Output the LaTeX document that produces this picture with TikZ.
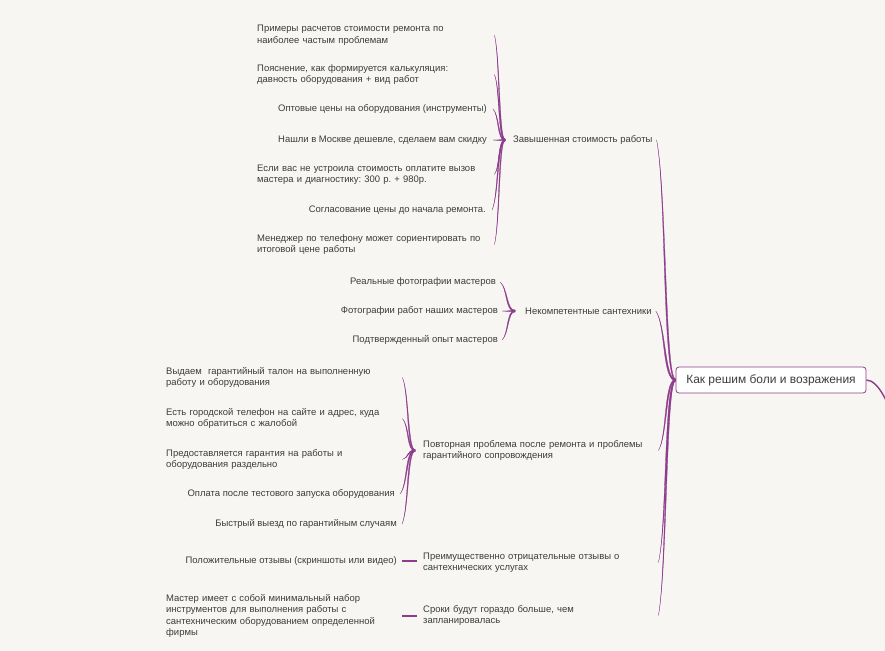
\documentclass[tikz,border=0pt]{standalone}
\usepackage{fontspec}
\setmainfont{Liberation Sans}
\frenchspacing
\usetikzlibrary{calc}
\definecolor{bgc}{HTML}{F7F6F3}
\definecolor{lc}{HTML}{8E3C8C}
\definecolor{txt}{HTML}{3C3C3C}
\tikzset{
  leaf/.style={font=\fontsize{9.5}{11.5}\selectfont, text=txt, inner sep=0pt, align=left, yshift=-1bp},
  leafr/.style={leaf, anchor=east},
  leafm/.style={leaf, anchor=west, text width=231bp},
  branch/.style={leaf, anchor=west},
  branchm/.style={leaf, anchor=west, text width=231bp},
  rootbox/.style={draw=lc, line width=0.8pt, fill=white, rounded corners=3pt,
    minimum width=190bp, minimum height=26bp, inner sep=0pt,
    font=\fontsize{12}{14}\selectfont, text=txt},
  conn/.style={lc, line width=0.3pt},
  straight/.style={lc, line width=1.5pt}
}
\newcommand\tconn[2]{%
  \filldraw[conn] let \p1=(#1), \p2=(#2), \n1={ifthenelse(\y1>\y2,-1,1)} in
  (\x1,\y1) .. controls ({\x1+0.5*(\x2-\x1)},{\y1+0.2*(\y2-\y1)}) and ({\x1+0.3*(\x2-\x1)},\y2) .. ({\x2},{\y2+(\n1)*1pt})
  -- ({\x2},{\y2-(\n1)*1pt}) .. controls ({\x1+0.45*(\x2-\x1)},\y2) and ({\x1+0.5*(\x2-\x1)+0.5pt},{\y1+0.2*(\y2-\y1)}) .. (\x1,\y1) -- cycle;}
\begin{document}
\begin{tikzpicture}[x=1bp,y=-1bp]
\fill[bgc] (0,0) rectangle (885,651);
\useasboundingbox (0,0) rectangle (885,651);

% root
\node[rootbox] (root) at (771,380) {Как решим боли и возражения};

% branches
\node[branch] (b1) at (513,139) {Завышенная стоимость работы};
\node[branch] (b2) at (525,310) {Некомпетентные сантехники};
\node[branchm] (b3) at (423,449.5) {Повторная проблема после ремонта и проблемы\\гарантийного сопровождения};
\node[branchm] (b4) at (423,561.5) {Преимущественно отрицательные отзывы о\\сантехнических услугах};
\node[branchm] (b5) at (423,614.5) {Сроки будут гораздо больше, чем\\запланировалась};

% junctions
\coordinate (j1) at ([xshift=-8bp]b1.west);
\coordinate (j2) at ([xshift=-10bp]b2.west);
\coordinate (j3) at ([xshift=-8bp]b3.west);

% branch 1 children
\node[leaf, anchor=west, text width=231bp] (a1) at (257,34) {Примеры расчетов стоимости ремонта по\\наиболее частым проблемам};
\node[leaf, anchor=west, text width=231bp] (a2) at (257,73.5) {Пояснение, как формируется калькуляция:\\давность оборудования + вид работ};
\node[leafr] (a3) at (487,108) {Оптовые цены на оборудования (инструменты)};
\node[leafr] (a4) at (487,139) {Нашли в Москве дешевле, сделаем вам скидку};
\node[leaf, anchor=west, text width=231bp] (a5) at (257,173.5) {Если вас не устроила стоимость оплатите вызов\\мастера и диагностику: 300 р. + 980р.};
\node[leafr] (a6) at (486,209) {Согласование цены до начала ремонта.};
\node[leaf, anchor=west, text width=231bp] (a7) at (257,243.5) {Менеджер по телефону может сориентировать по\\итоговой цене работы};

% branch 2 children
\node[leafr] (p1) at (496,281) {Реальные фотографии мастеров};
\node[leafr] (p2) at (498,310) {Фотографии работ наших мастеров};
\node[leafr] (p3) at (498,339) {Подтвержденный опыт мастеров};

% branch 3 children
\node[leafm] (c1) at (166,376.5) {Выдаем \ гарантийный талон на выполненную\\работу и оборудования};
\node[leafm] (c2) at (166,417.5) {Есть городской телефон на сайте и адрес, куда\\можно обратиться с жалобой};
\node[leafm] (c3) at (166,458.5) {Предоставляется гарантия на работы и\\оборудования раздельно};
\node[leafr] (c4) at (395,493) {Оплата после тестового запуска оборудования};
\node[leafr] (c5) at (397,523) {Быстрый выезд по гарантийным случаям};

% branch 4 / 5 children
\node[leafr] (d1) at (397,560) {Положительные отзывы (скриншоты или видео)};
\node[leafm] (e1) at (166,615) {Мастер имеет с собой минимальный набор\\инструментов для выполнения работы с\\сантехническим оборудованием определенной\\фирмы};

% connectors root -> branches
\tconn{[xshift=4bp]b1.east}{root.west}
\tconn{[xshift=4bp]b2.east}{root.west}
\tconn{[xshift=4bp]b3.east}{root.west}
\tconn{[xshift=4bp]b4.east}{root.west}
\tconn{[xshift=4bp]b5.east}{root.west}

% branch 1
\foreach \k in {a1,a2,a3,a4,a5,a6,a7}{\tconn{[xshift=6bp]\k.east}{j1}}
% branch 2
\foreach \k in {p1,p2,p3}{\tconn{[xshift=4bp]\k.east}{j2}}
% branch 3
\foreach \k in {c1,c2,c3,c4,c5}{\tconn{[xshift=5bp]\k.east}{j3}}

% branch 4 / 5
\draw[straight] ([xshift=5bp]d1.east) -- ([xshift=-6bp]d1.east -| b4.west);
\draw[straight] ([xshift=5bp]e1.east) -- ([xshift=-6bp]e1.east -| b5.west);

% root outgoing (cut at picture edge)
\begin{scope}
\clip (0,0) rectangle (885,651);
\draw[lc, line width=1.4pt] (root.east) .. controls +(12,0) and +(-3,-14) .. (893,420);
\end{scope}
\end{tikzpicture}
\end{document}
